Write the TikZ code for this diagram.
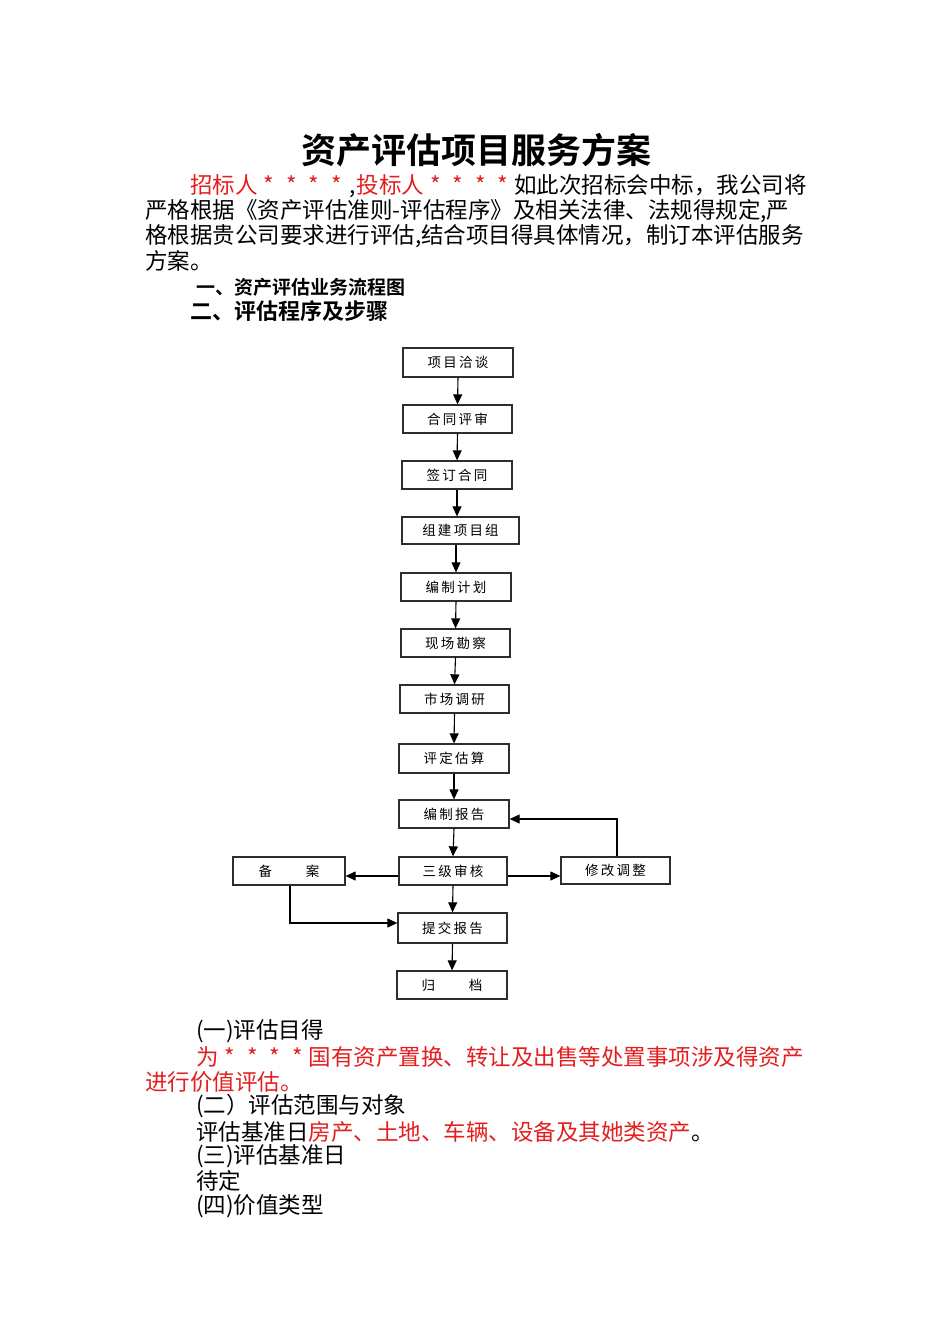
\documentclass[tikz,border=0pt]{standalone}
\usepackage{fontspec}
\setmainfont{Noto Sans CJK SC}[BoldFont={Noto Sans CJK SC Bold}]
\usetikzlibrary{arrows.meta}
\definecolor{txtred}{RGB}{228,30,30}
\definecolor{boxline}{RGB}{45,45,45}
\newcommand\fourstars{\makebox[22.5pt]{*}\makebox[22.5pt]{*}\makebox[22.5pt]{*}\makebox[22.5pt]{*}}
\tikzset{
 box/.style={draw=boxline, line width=1.3pt, minimum width=110pt, minimum height=28pt, inner sep=0pt, font=\fontsize{13.5}{15}\selectfont},
 arr/.style={-{Triangle[length=10pt,width=9pt]}, line width=1.1pt, draw=black},
 txtline/.style={anchor=west, inner sep=0pt, font=\fontsize{22.5}{25}\selectfont},
}
\begin{document}
\begin{tikzpicture}[x=1pt,y=-1pt]
\useasboundingbox[fill=white] (0,0) rectangle (950,1344);

% title and paragraph
\node[inner sep=0pt, font=\bfseries\fontsize{35}{40}\selectfont] (title) at (476,150) {资产评估项目服务方案};
\node[txtline] (p1) at (190,186) {{\color{txtred}招标人\fourstars}\makebox[9pt]{,}{\color{txtred}投标人\fourstars}如此次招标会中标，我公司将};
\node[txtline] (p2) at (145,211) {严格根据《资产评估准则-评估程序》及相关法律、法规得规定,严};
\node[txtline] (p3) at (145,236) {格根据贵公司要求进行评估,结合项目得具体情况，制订本评估服务};
\node[txtline] (p4) at (145,261) {方案。};
\node[anchor=west, inner sep=0pt, font=\bfseries\fontsize{19}{22}\selectfont] (h1) at (196,287) {一、资产评估业务流程图};
\node[anchor=west, inner sep=0pt, font=\bfseries\fontsize{22}{25}\selectfont] (h2) at (190,311) {二、评估程序及步骤};

% flowchart boxes
\node[box, minimum height=29pt] (n1) at (458,362.5) {项\,目\,洽\,谈};
\node[box, minimum width=109pt] (n2) at (457.5,419) {合\,同\,评\,审};
\node[box] (n3) at (457,475) {签\,订\,合\,同};
\node[box, minimum width=117pt, minimum height=27pt] (n4) at (460.5,530.5) {组\,建\,项\,目\,组};
\node[box] (n5) at (456,587) {编\,制\,计\,划};
\node[box, minimum width=109pt] (n6) at (455.5,643) {现\,场\,勘\,察};
\node[box, minimum width=109pt] (n7) at (454.5,699) {市\,场\,调\,研};
\node[box, minimum height=29pt] (n8) at (454,758.5) {评\,定\,估\,算};
\node[box] (n9) at (454,814) {编\,制\,报\,告};
\node[box, minimum width=108pt] (n10) at (453,871) {三\,级\,审\,核};
\node[box, minimum width=112pt] (n11) at (289,871) {备\hspace{34pt}案};
\node[box, minimum width=109pt, minimum height=27pt] (n12) at (615.5,870.5) {修\,改\,调\,整};
\node[box, minimum width=109pt, minimum height=30pt] (n13) at (452.5,928) {提\,交\,报\,告};
\node[box] (n14) at (452,985) {归\hspace{34pt}档};

% connectors
\draw[arr] (n1.south) -- (n2.north);
\draw[arr] (n2.south) -- (n3.north);
\draw[arr] (n3.south) -- (n3.south |- n4.north);
\draw[arr] (n4.south -| n5.north) -- (n5.north);
\draw[arr] (n5.south) -- (n6.north);
\draw[arr] (n6.south) -- (n7.north);
\draw[arr] (n7.south) -- (n8.north);
\draw[arr] (n8.south) -- (n9.north);
\draw[arr] (n9.south) -- (n10.north);
\draw[arr] (n10.south) -- (n13.north);
\draw[arr] (n13.south) -- (n14.north);
\draw[arr] ([yshift=-5pt]n10.west) -- ([yshift=-5pt]n10.west -| n11.east);
\draw[arr] ([yshift=-5pt]n10.east) -- ([yshift=-5pt]n10.east -| n12.west);
\draw[arr] ([xshift=1.5pt]n12.north) |- ([yshift=-5pt]n9.east);
\draw[arr] ([xshift=1pt]n11.south) |- ([yshift=5pt]n13.west);

% lower text
\node[txtline] (q1) at (196,1031) {(一)评估目得};
\node[txtline, text=txtred] (q2) at (196,1057) {为\fourstars 国有资产置换、转让及出售等处置事项涉及得资产};
\node[txtline, text=txtred] (q3) at (145,1082) {进行价值评估。};
\node[txtline] (q4) at (196,1106) {(二）评估范围与对象};
\node[txtline] (q5) at (196,1132) {评估基准日{\color{txtred}房产、土地、车辆、设备及其她类资产}。};
\node[txtline] (q6) at (196,1156) {(三)评估基准日};
\node[txtline] (q7) at (196,1181) {待定};
\node[txtline] (q8) at (196,1206) {(四)价值类型};
\end{tikzpicture}
\end{document}
